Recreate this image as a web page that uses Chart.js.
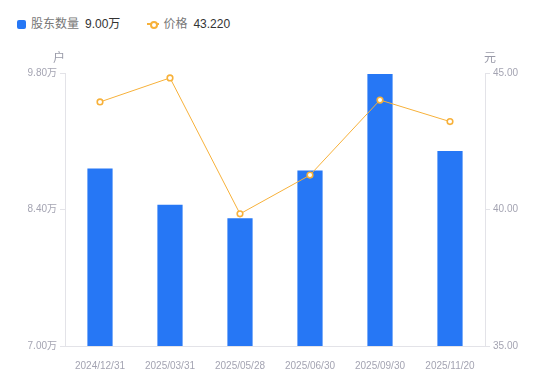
<!DOCTYPE html>
<html><head><meta charset="utf-8">
<script src="https://cdn.jsdelivr.net/npm/chart.js@4"></script>
<style>
html,body{margin:0;padding:0;background:#fff;}
#wrap{position:relative;width:550px;height:381px;font-family:"Liberation Sans","Noto Sans CJK SC",sans-serif;}
#legend{position:absolute;left:17px;top:16px;font-size:12px;line-height:16px;display:flex;align-items:center;}
.item{display:flex;align-items:center;margin-right:27px;}
.sq{width:9px;height:9px;background:#2677F5;border-radius:2px;margin-right:5px;}
.ln{position:relative;width:12px;height:10px;margin-right:4px;}
.ln:before{content:"";position:absolute;left:0;right:0;top:4px;height:2px;background:#F7B13A;}
.ln:after{content:"";position:absolute;left:2.5px;top:1.5px;width:4px;height:4px;border:2px solid #F7B13A;border-radius:50%;background:#fff;}
.nm{color:#777;margin-right:6px;}
.val{color:#333;}
canvas{position:absolute;left:0;top:0;}
</style></head>
<body><div id="wrap"><div id="legend"></div><canvas id="c" width="550" height="381"></canvas></div>
<script>
const categories = ["2024/12/31","2025/03/31","2025/05/28","2025/06/30","2025/09/30","2025/11/20"];
const holders = [8.82, 8.45, 8.31, 8.80, 9.79, 9.00];
const prices = [43.94, 44.82, 39.84, 41.26, 44.01, 43.22];
const leftTicks = [7.00, 8.40, 9.80];
const rightTicks = [35.00, 40.00, 45.00];
const seriesNames = ["股东数量","价格"];

document.getElementById('legend').innerHTML =
 '<div class="item"><div class="sq"></div><span class="nm">'+seriesNames[0]+'</span><span class="val">'+holders[holders.length-1].toFixed(2)+'万</span></div>'+
 '<div class="item"><div class="ln"></div><span class="nm">'+seriesNames[1]+'</span><span class="val">'+prices[prices.length-1].toFixed(3)+'</span></div>';

const tickColor = '#a4a4b2';
const axisColor = '#e3e3e8';
const font = {family:'"Liberation Sans","Noto Sans CJK SC",sans-serif', size:10};

const titlePlugin = {
  id:'axisTitles',
  afterDraw(chart){
    const ctx = chart.ctx, a = chart.chartArea;
    ctx.save();
    ctx.fillStyle = '#999aa8';
    ctx.font = '12px "Noto Sans CJK SC",sans-serif';
    ctx.textAlign='center'; ctx.textBaseline='middle';
    ctx.fillText('户', a.left-6, 57);
    ctx.fillText('元', a.right+5, 57);
    ctx.restore();
  }
};

new Chart(document.getElementById('c'), {
  data:{
    labels:categories,
    datasets:[
      {type:'line', label:seriesNames[1], data:prices, yAxisID:'y1', borderColor:'#F7B13A', borderWidth:1,
       pointRadius:2.8, pointBorderWidth:1.6, pointBackgroundColor:'#fff', pointBorderColor:'#F7B13A', tension:0, order:0},
      {type:'bar', label:seriesNames[0], data:holders, yAxisID:'y', backgroundColor:'#2677F5', categoryPercentage:1, barPercentage:0.36, order:1}
    ]
  },
  options:{
    responsive:false, animation:false,
    layout:{padding:{top:73,left:0,right:0,bottom:0}},
    plugins:{legend:{display:false}, tooltip:{enabled:false}},
    scales:{
      x:{grid:{display:false}, border:{display:true,color:axisColor},
         ticks:{color:tickColor,font:font,padding:6,maxRotation:0},
         afterFit(s){s.height=35;}},
      y:{position:'left', min:7, max:9.8,
         afterBuildTicks(s){s.ticks=leftTicks.map(v=>({value:v}));},
         grid:{drawOnChartArea:false, drawTicks:true, tickLength:5, color:axisColor},
         border:{display:true,color:axisColor},
         ticks:{color:tickColor,font:font,padding:3,callback:v=>v.toFixed(2)+'万'},
         afterFit(s){s.width=65;}},
      y1:{position:'right', min:35, max:45,
         afterBuildTicks(s){s.ticks=rightTicks.map(v=>({value:v}));},
         grid:{drawOnChartArea:false, drawTicks:true, tickLength:5, color:axisColor},
         border:{display:true,color:axisColor},
         ticks:{color:tickColor,font:font,padding:3,callback:v=>v.toFixed(2)},
         afterFit(s){s.width=65;}}
    }
  },
  plugins:[titlePlugin]
});
</script></body></html>
